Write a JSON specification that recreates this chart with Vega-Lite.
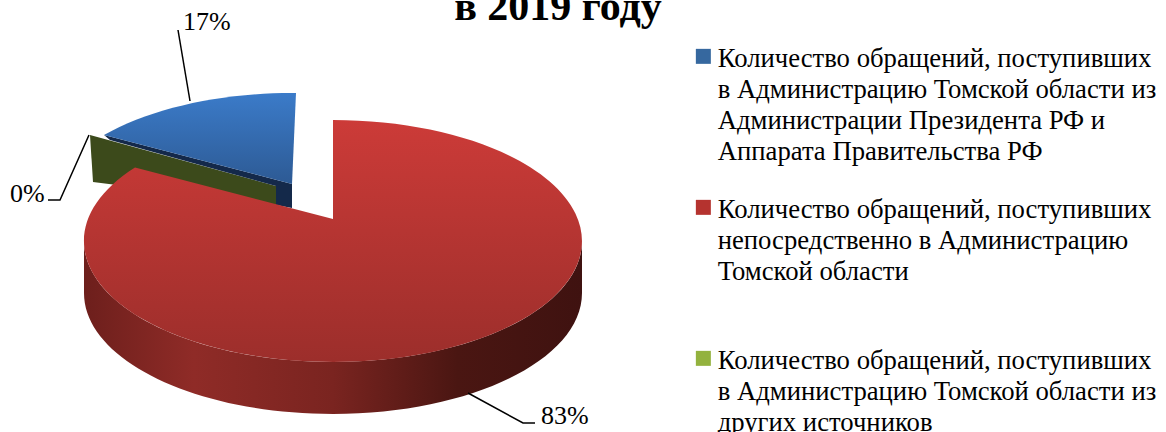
{
"$schema":"https://vega.github.io/schema/vega-lite/v6.json",
"width":666,"height":384,
"autosize":{"type":"none"},
"padding":{"left":0,"top":48,"right":500,"bottom":0},
"background":"white",
"config":{"view":{"stroke":null},"font":"Liberation Serif"},
"title":{"text":"в 2019 году","font":"Liberation Serif","fontSize":42,"fontWeight":"bold","color":"black","anchor":"middle","dx":225,"dy":20,"offset":0,"frame":"group"},
"data":{"values":[
{"slice":"Количество обращений, поступивших\nв Администрацию Томской области из\nАдминистрации Президента РФ и\nАппарата Правительства РФ","key":"president","share":17,"label":"17%"},
{"slice":"Количество обращений, поступивших\nнепосредственно в Администрацию\nТомской области","key":"direct","share":83,"label":"83%"},
{"slice":"Количество обращений, поступивших\nв Администрацию Томской области из\nдругих источников","key":"other","share":0,"label":"0%"}
]},
"layer":[
{"transform":[{"filter":"datum.key==='other'"}],
 "mark":{"type":"point","filled":true,"opacity":1,"size":4,"shape":"M-243,-105L-57,-54L-57,-35L-240,-58Z","fill":"#3c4a1b"}},
{"transform":[{"filter":"datum.key==='president'"}],
 "mark":{"type":"point","filled":true,"opacity":1,"size":4,"shape":"M-229,-105L-41,-56L-41,-32L-57,-35L-57,-54L-223,-100Z","fill":"#14294a"}},
{"transform":[{"filter":"datum.key==='president'"}],
 "mark":{"type":"point","filled":true,"opacity":1,"size":4,"shape":"M-41,-56L-37,-147A249,122 0 0,0 -229,-105Z",
 "fill":{"gradient":"linear","x1":0,"y1":0,"x2":0,"y2":1,"stops":[{"offset":0,"color":"#3b7bc9"},{"offset":1,"color":"#2d5a94"}]}}},
{"transform":[{"filter":"datum.key==='direct'"}],
 "mark":{"type":"point","filled":true,"opacity":1,"size":4,"shape":"M-249,1A249,121 0 0,0 249,1L249,53A249,121 0 0,1 -249,53Z",
 "fill":{"gradient":"linear","x1":0,"y1":0,"x2":1,"y2":0,"stops":[{"offset":0,"color":"#6d1f1c"},{"offset":0.22,"color":"#8f2b27"},{"offset":0.5,"color":"#7a2420"},{"offset":0.75,"color":"#4a1612"},{"offset":1,"color":"#3f1210"}]}}},
{"transform":[{"filter":"datum.key==='direct'"}],
 "mark":{"type":"point","filled":true,"opacity":1,"size":4,"shape":"M0,-21L0,-120A249,121 0 1,1 -198,-72.4Z",
 "fill":{"gradient":"linear","x1":0,"y1":0,"x2":0,"y2":1,"stops":[{"offset":0,"color":"#cc3b38"},{"offset":1,"color":"#9c2e2b"}]}}},
{"transform":[{"filter":"datum.key==='president'"}],
 "mark":{"type":"point","filled":false,"opacity":1,"size":4,"stroke":"black","strokeWidth":1.5,"shape":"M-155,-210L-143,-139"}},
{"transform":[{"filter":"datum.key==='other'"}],
 "mark":{"type":"point","filled":false,"opacity":1,"size":4,"stroke":"black","strokeWidth":1.5,"shape":"M-285,-40L-273,-40L-244,-105"}},
{"transform":[{"filter":"datum.key==='direct'"}],
 "mark":{"type":"point","filled":false,"opacity":1,"size":4,"stroke":"black","strokeWidth":1.5,"shape":"M135,153L190,183L202,183"}},
{"transform":[{"filter":"datum.key==='president'"}],
 "mark":{"type":"text","fontSize":26,"font":"Liberation Serif","align":"left","baseline":"alphabetic","dx":-150,"dy":-210,"color":"black"},
 "encoding":{"text":{"field":"label"}}},
{"transform":[{"filter":"datum.key==='other'"}],
 "mark":{"type":"text","fontSize":26,"font":"Liberation Serif","align":"left","baseline":"alphabetic","dx":-323,"dy":-38,"color":"black"},
 "encoding":{"text":{"field":"label"}}},
{"transform":[{"filter":"datum.key==='direct'"}],
 "mark":{"type":"text","fontSize":26,"font":"Liberation Serif","align":"left","baseline":"alphabetic","dx":208,"dy":184,"color":"black"},
 "encoding":{"text":{"field":"label"}}},
{"mark":{"type":"point","filled":true,"opacity":1,"size":0},
 "encoding":{"color":{"field":"slice","type":"nominal","sort":null,
  "scale":{"domain":["Количество обращений, поступивших\nв Администрацию Томской области из\nАдминистрации Президента РФ и\nАппарата Правительства РФ","Количество обращений, поступивших\nнепосредственно в Администрацию\nТомской области","Количество обращений, поступивших\nв Администрацию Томской области из\nдругих источников"],"range":["#36689f","#b5332f","#93b23e"]},
  "legend":{"orient":"none","legendX":690,"legendY":-5,"padding":0,"title":null,"symbolType":"square","symbolSize":225,"symbolStrokeWidth":0,"labelFont":"Liberation Serif","labelFontSize":26.7,"labelColor":"black","labelLimit":480,"labelBaseline":"top","labelOffset":1,"rowPadding":27,"gridAlign":"all","labelExpr":"split(datum.label,'\\n')",
  "encoding":{"labels":{"lineHeight":{"value":31},"dy":{"value":-10}}}}}}}
]
}
